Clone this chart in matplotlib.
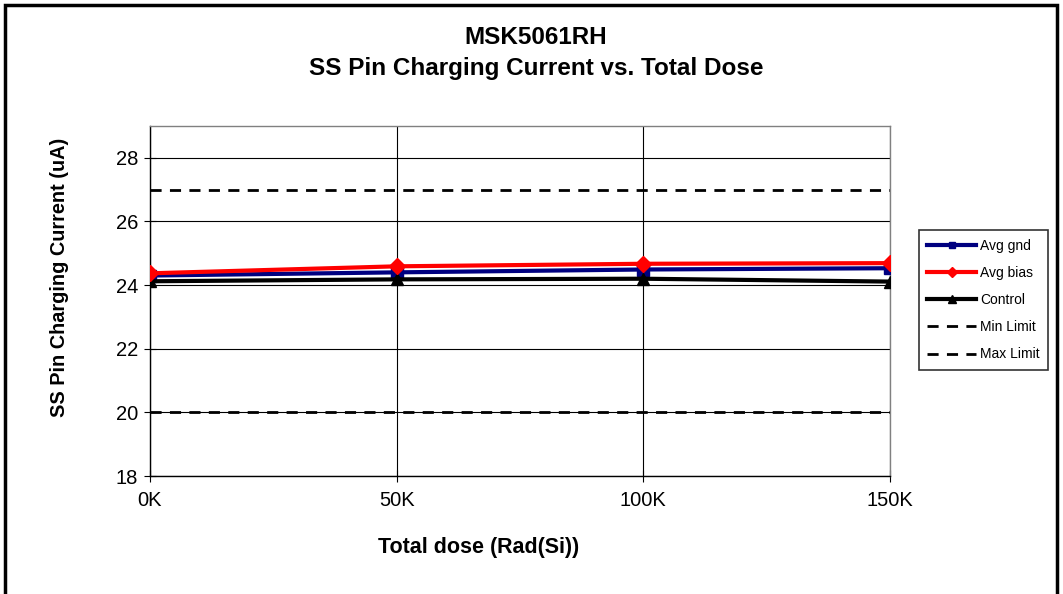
import matplotlib
matplotlib.use("Agg")
import matplotlib.pyplot as plt
from matplotlib.patches import Rectangle

plt.rcParams['font.family'] = ['Liberation Sans', 'DejaVu Sans']

doses = [0, 50, 100, 150]
dose_labels = ["0K", "50K", "100K", "150K"]
avg_gnd = [24.30, 24.40, 24.49, 24.53]
avg_bias = [24.37, 24.59, 24.67, 24.69]
control = [24.12, 24.18, 24.20, 24.11]
min_limit = [20, 20, 20, 20]
max_limit = [27, 27, 27, 27]

W, H = 1063, 594
fig = plt.figure(figsize=(W/100, H/100), dpi=100)
ax = fig.add_axes([150/W, 1-476/H, 740/W, 350/H])

ax.plot(doses, avg_gnd, color='#000080', lw=3, marker='s', ms=8, label='Avg gnd', zorder=4)
ax.plot(doses, avg_bias, color='#ff0000', lw=3, marker='D', ms=8, label='Avg bias', zorder=5)
ax.plot(doses, control, color='black', lw=3, marker='^', ms=9, label='Control', zorder=4)
ax.plot(doses, min_limit, color='black', lw=2, ls=(0, (4, 3)), label='Min Limit', zorder=3)
ax.plot(doses, max_limit, color='black', lw=2, ls=(0, (4, 3)), label='Max Limit', zorder=3)

ax.set_xlim(0, 150)
ax.set_ylim(18, 29)
ax.set_yticks([18, 20, 22, 24, 26, 28])
ax.set_xticks(doses)
ax.set_xticklabels(dose_labels)
ax.tick_params(labelsize=14.5, length=9, direction='inout', color='black')
ax.tick_params(axis='x', pad=6)
ax.tick_params(axis='y', pad=4)
ax.grid(True, color='black', lw=0.8)
ax.set_axisbelow(True)
for s in ax.spines.values():
    s.set_color('#808080')
    s.set_linewidth(1)
for s in ['left', 'bottom']:
    ax.spines[s].set_color('black')

fig.text(479/W, 1-547/H, 'Total dose (Rad(Si))', ha='center', va='center', fontsize=15.5, fontweight='bold')
fig.text(60/W, 1-277/H, 'SS Pin Charging Current (uA)', ha='center', va='center', rotation=90,
         fontsize=14.3, fontweight='bold')

fig.text(536/W, 1-37/H, 'MSK5061RH', ha='center', va='center', fontsize=17.5, fontweight='bold')
fig.text(536/W, 1-68/H, 'SS Pin Charging Current vs. Total Dose', ha='center', va='center', fontsize=17.5, fontweight='bold')

leg = ax.legend(loc='center left', bbox_to_anchor=(919/W, 1-300/H), bbox_transform=fig.transFigure,
                fontsize=10, frameon=True, fancybox=False, edgecolor='black', handlelength=3.5,
                borderpad=0.6, labelspacing=0.95, handletextpad=0.3, markerscale=0.6, borderaxespad=0)
leg.get_frame().set_linewidth(1.2)

fig.patches.append(Rectangle((5/W, -0.01), 1052/W, 1-5/H+0.01, transform=fig.transFigure,
                             fill=False, edgecolor='black', lw=2.5))

fig.savefig('out.png', dpi=100)
